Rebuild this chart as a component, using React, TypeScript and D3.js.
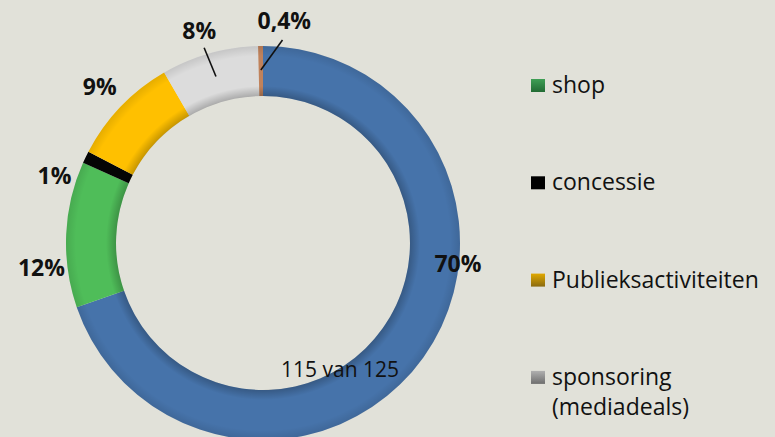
import React from "react";
import * as d3 from "d3";

const categories = ["rest", "shop", "concessie", "Publieksactiviteiten", "sponsoring (mediadeals)", "overig"];
const values = [70, 12, 1, 9, 8, 0.4];
const labels = ["70%", "12%", "1%", "9%", "8%", "0,4%"];
const colors = ["#4673aa", "#4fbd59", "#050505", "#ffc000", "#dcdcdc", "#c0825c"];
const legendItems = ["shop", "concessie", "Publieksactiviteiten", "sponsoring|(mediadeals)"];
const legendGrad = [
  ["#3f9f55", "#226b34"],
  ["#000000", "#000000"],
  ["#e0a800", "#8a6a10"],
  ["#b0b0b0", "#6e6e6e"],
];
const centerNote = "115 van 125";

const W = 775;
const H = 437;

export default function App() {
  const cx = 263;
  const cy = 243;
  const rOuter = 197;
  const rInner = 147;
  const pie = d3.pie<number>().sort(null).value((d) => d);
  const arcs = pie(values);
  const arc = d3.arc<d3.PieArcDatum<number>>().innerRadius(rInner).outerRadius(rOuter);
  const pt = (a: number, r: number) => [cx + Math.sin(a) * r, cy - Math.cos(a) * r];
  const deg = Math.PI / 180;

  // label placement: [angle offset from slice middle (deg), radius]
  const labelPlace: [number, number][] = [
    [-29.5, 196],
    [-9, 223],
    [-8, 219],
    [0, 226],
    [-1, 221],
    [6.2, 223],
  ];
  const leaders = [4, 5];

  return (
    <svg width={W} height={H} style={{ position: "fixed", left: 0, top: 0, background: "#e1e1d9" }}>
      <defs>
        <radialGradient id="shade" cx={0} cy={0} r={rOuter} gradientUnits="userSpaceOnUse">
          <stop offset={rInner / rOuter} stopColor="#000" stopOpacity={0.22} />
          <stop offset={(rInner + 10) / rOuter} stopColor="#000" stopOpacity={0} />
          <stop offset={0.95} stopColor="#000" stopOpacity={0} />
          <stop offset={1} stopColor="#000" stopOpacity={0.1} />
        </radialGradient>
        {legendGrad.map((g, i) => (
          <linearGradient key={i} id={`lg${i}`} x1="0" y1="0" x2="0" y2="1">
            <stop offset="0" stopColor={g[0]} />
            <stop offset="1" stopColor={g[1]} />
          </linearGradient>
        ))}
      </defs>
      <rect width={W} height={H} fill="#e1e1d9" />
      <g transform={`translate(${cx},${cy})`}>
        {arcs.map((a, i) => (
          <path key={i} d={arc(a) || ""} fill={colors[i]} />
        ))}
        <path
          d={d3.arc()({ innerRadius: rInner, outerRadius: rOuter, startAngle: 0, endAngle: 2 * Math.PI }) || ""}
          fill="url(#shade)"
        />
      </g>
      {arcs.map((a, i) => {
        const mid = (a.startAngle + a.endAngle) / 2;
        const [off, r] = labelPlace[i];
        const [x, y] = pt(mid + off * deg, r);
        return (
          <text
            key={i}
            x={x}
            y={y}
            dy="0.35em"
            textAnchor="middle"
            fontFamily="'Open Sans', sans-serif"
            fontWeight="bold"
            fontSize={23}
            fill="#111"
          >
            {labels[i]}
          </text>
        );
      })}
      {leaders.map((i) => {
        const a = arcs[i];
        const mid = (a.startAngle + a.endAngle) / 2;
        const [x1, y1] = pt(mid, 173);
        const [x2, y2] = pt(mid + labelPlace[i][0] * deg, 204);
        return <line key={i} x1={x1} y1={y1} x2={x2} y2={y2} stroke="#111" strokeWidth={1.6} />;
      })}
      <text x={340} y={377} textAnchor="middle" fontFamily="'Open Sans', sans-serif" fontSize={21} fill="#111">
        {centerNote}
      </text>
      {legendItems.map((item, i) => {
        const y = 93 + i * 97.3;
        const lines = item.split("|");
        return (
          <g key={i}>
            <rect x={531} y={y - 14} width={14} height={13} fill={`url(#lg${i})`} />
            {lines.map((ln, j) => (
              <text
                key={j}
                x={552}
                y={y + j * 30}
                fontFamily="'Open Sans', sans-serif"
                fontSize={23}
                fill="#111"
              >
                {ln}
              </text>
            ))}
          </g>
        );
      })}
    </svg>
  );
}
